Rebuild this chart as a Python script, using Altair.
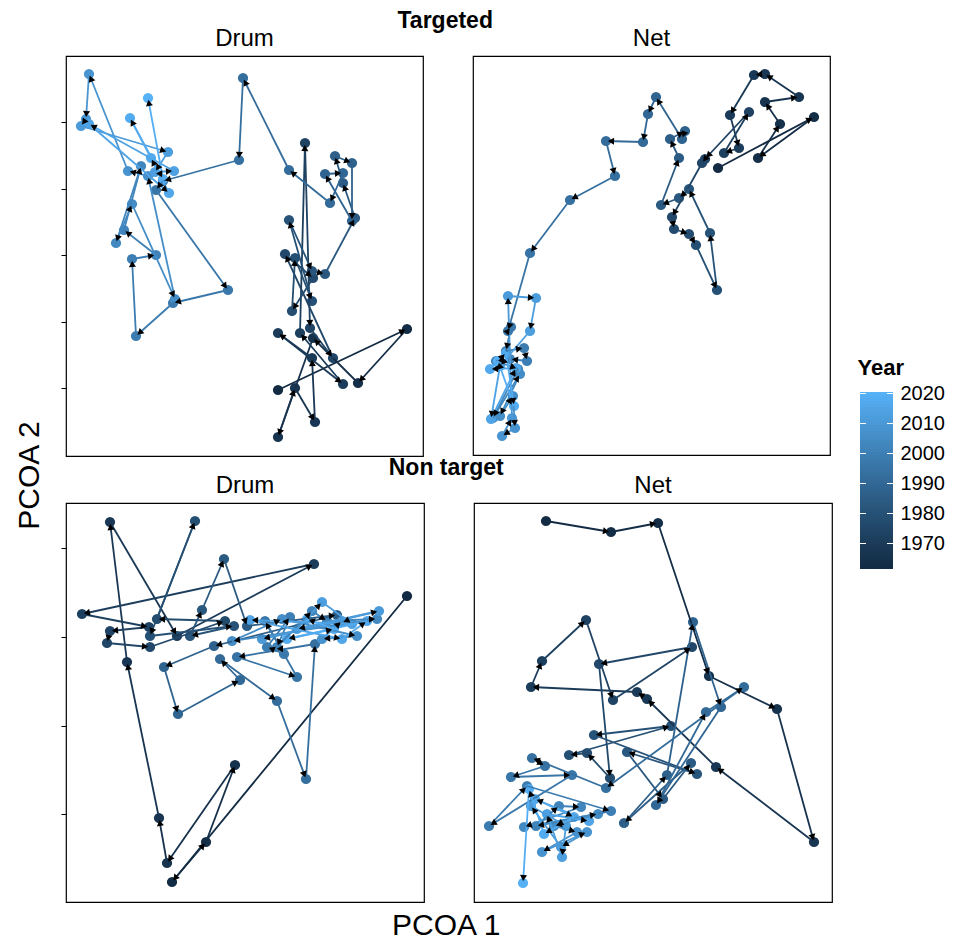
import altair as alt
import pandas as pd
import numpy as np

years = list(range(1962, 2021))

# Targeted - Drum
td_x = [2.12, 3.41, 2.92, 2.47, 2.12, 2.29, 2.49, 2.46, 2.12, 2.77, 2.34, 2.39, 2.44, 2.67, 2.19, 2.47,
        2.26, 2.29, 2.46, 2.23, 2.46, 2.59, 2.89, 2.77, 2.69, 2.86, 2.86, 2.59, 2.77, 2.64, 2.23, 1.77,
        1.73, 0.97, 0.90, 1.62, 1.07, 0.70, 0.66, 0.90, 0.58, 0.75, 0.50, 0.66, 1.09, 0.82, 0.62, 0.23,
        0.20, 0.15, 1.02, 0.89, 1.08, 0.23, 1.03, 0.85, 0.64, 0.97, 0.82]
td_y = [0.66, 1.27, 0.73, 1.18, 0.19, 0.68, 0.34, 0.98, 1.23, 0.72, 1.23, 3.13, 1.28, 0.98, 2.02, 1.78,
        1.45, 1.98, 1.55, 2.36, 1.85, 1.82, 2.38, 2.73, 3.00, 2.93, 2.35, 2.82, 2.83, 2.53, 2.86, 3.78,
        2.96, 2.75, 2.66, 1.66, 1.53, 1.20, 1.97, 2.01, 2.26, 2.90, 2.13, 2.52, 1.57, 2.80, 2.85, 3.82,
        3.37, 3.30, 3.04, 2.84, 2.85, 3.32, 2.63, 2.98, 3.38, 2.77, 3.58]

# Targeted - Net
tn_x = [2.45, 3.41, 2.85, 3.07, 2.92, 3.26, 2.92, 2.81, 2.57, 2.66, 2.51, 2.76, 2.32, 2.29, 1.99, 2.01,
        2.16, 2.23, 2.44, 2.37, 2.16, 2.06, 1.88, 2.06, 1.97, 2.12, 2.09, 1.83, 1.75, 1.70, 1.33, 1.42,
        0.97, 0.57, 0.35, 0.38, 0.33, 0.51, 0.54, 0.37, 0.23, 0.45, 0.20, 0.47, 0.27, 0.40, 0.42, 0.29,
        0.39, 0.35, 0.63, 0.57, 0.27, 0.18, 0.43, 0.17, 0.33, 0.41, 0.25]
tn_y = [2.87, 3.38, 2.97, 3.31, 3.53, 3.58, 3.81, 3.80, 3.40, 3.07, 3.02, 3.43, 2.96, 2.92, 2.38, 2.26,
        2.21, 2.10, 1.65, 2.22, 2.66, 2.57, 2.50, 2.97, 3.16, 3.24, 3.16, 3.58, 3.41, 3.13, 3.14, 2.79,
        2.55, 2.02, 1.24, 1.28, 1.04, 1.07, 0.94, 0.96, 0.94, 0.86, 0.37, 0.81, 0.39, 0.59, 0.27, 0.19,
        0.37, 1.59, 1.57, 1.24, 0.89, 0.36, 0.87, 0.86, 1.02, 0.49, 0.94]

# Non target - Drum
nd_x = [3.41, 1.06, 1.40, 1.69, 1.01, 0.93, 0.61, 0.44, 1.11, 2.48, 0.16, 0.83, 0.44, 0.41, 0.84, 1.59,
        0.91, 1.29, 0.84, 1.68, 1.24, 1.36, 1.58, 1.81, 2.71, 1.48, 0.98, 1.12, 1.74, 1.54, 2.11, 2.40,
        2.49, 1.71, 2.31, 1.99, 2.18, 2.01, 2.24, 2.11, 2.46, 2.61, 3.11, 1.66, 2.16, 2.91, 2.56, 2.76,
        1.96, 3.13, 2.31, 2.56, 2.86, 1.84, 2.76, 3.01, 2.21, 2.68, 2.41]
nd_y = [3.06, 0.20, 0.60, 1.37, 0.39, 0.84, 2.40, 3.80, 2.66, 3.38, 2.88, 2.75, 2.71, 2.59, 2.55, 2.81,
        2.83, 3.81, 2.66, 2.76, 2.66, 2.92, 3.43, 2.76, 2.87, 2.56, 2.35, 1.88, 2.22, 2.43, 2.01, 1.23,
        2.58, 2.45, 2.25, 2.81, 2.48, 2.55, 2.85, 2.55, 2.91, 2.81, 2.83, 2.61, 2.83, 2.66, 2.63, 2.81,
        2.63, 2.91, 2.73, 3.00, 2.78, 2.82, 2.63, 2.81, 2.63, 2.73, 2.83]

# Non target - Net
nn_x = [0.72, 1.37, 1.84, 2.35, 3.03, 3.40, 2.42, 1.73, 1.63, 0.57, 0.68, 1.12, 1.39, 2.18, 1.25, 1.36,
        1.13, 0.95, 1.97, 1.20, 2.23, 1.53, 1.89, 2.17, 1.50, 1.93, 2.19, 2.47, 1.82, 2.32, 2.70, 1.32,
        0.58, 0.71, 0.37, 0.98, 0.15, 0.53, 1.37, 0.62, 0.85, 1.07, 0.50, 1.24, 0.80, 1.03, 0.68, 1.13,
        0.87, 0.57, 0.92, 0.88, 0.73, 1.15, 0.61, 1.00, 0.70, 0.55, 0.49]
nn_y = [3.81, 3.70, 3.79, 2.26, 1.93, 0.60, 1.35, 2.03, 2.10, 2.15, 2.41, 2.82, 2.02, 2.55, 2.38, 1.24,
        1.49, 1.47, 1.76, 1.67, 1.28, 1.50, 1.03, 1.39, 0.79, 1.27, 2.80, 1.95, 0.97, 1.90, 2.15, 1.14,
        1.44, 1.36, 1.25, 1.27, 0.76, 1.16, 0.91, 0.76, 0.96, 0.95, 0.75, 0.88, 0.76, 0.70, 0.50, 0.70,
        0.55, 0.96, 0.76, 0.45, 0.88, 0.81, 1.03, 0.85, 0.68, 1.13, 0.19]

drum_ticks_targeted = [0.68, 1.34, 2.01, 2.67, 3.34]
drum_ticks_nontarget = [0.88, 1.76, 2.65, 3.54]
legend_years = [1970, 1980, 1990, 2000, 2010, 2020]

FONT = "Liberation Sans"
LOW, HIGH = "#132B43", "#56B1F7"


def year_scale():
    return alt.Scale(domain=[1962, 2020], range=[LOW, HIGH], interpolate="lab")


color_enc = alt.Color("Year:Q", scale=year_scale(), legend=None)
stroke_enc = alt.Stroke("Year:Q", scale=year_scale(), legend=None)


def panel(xs, ys, title, w, h, yticks=None):
    xmax, ymax = w / 100.0, h / 100.0
    sx, sy = w / xmax, h / ymax
    pts = pd.DataFrame({"Year": years, "x": xs, "y": ys})
    seg = pd.DataFrame({"Year": years[:-1], "x": xs[:-1], "y": ys[:-1],
                        "x2": xs[1:], "y2": ys[1:]})
    dxp = (seg["x2"] - seg["x"]) * sx
    dyp = (seg["y2"] - seg["y"]) * sy
    L = np.hypot(dxp, dyp).replace(0, 1)
    back = 5.0
    seg["ax"] = seg["x2"] - dxp / L * back / sx
    seg["ay"] = seg["y2"] - dyp / L * back / sy
    seg["ang"] = np.degrees(np.arctan2(dxp, dyp)) % 360

    xs_ = alt.Scale(domain=[0, xmax], nice=False, zero=False)
    ys_ = alt.Scale(domain=[0, ymax], nice=False, zero=False)
    if yticks is not None:
        yaxis = alt.Axis(values=yticks, labels=False, title=None, grid=False, domain=False,
                         ticks=True, tickSize=5, tickColor="black", tickWidth=1)
    else:
        yaxis = None

    base_pts = alt.Chart(pts).mark_circle(size=105, opacity=1).encode(
        x=alt.X("x:Q", scale=xs_, axis=None),
        y=alt.Y("y:Q", scale=ys_, axis=yaxis),
        color=color_enc,
    )
    rules = alt.Chart(seg).mark_rule(strokeWidth=1.8).encode(
        x=alt.X("x:Q", scale=xs_, axis=None),
        y=alt.Y("y:Q", scale=ys_, axis=yaxis),
        x2="x2:Q", y2="y2:Q",
        stroke=stroke_enc,
    )
    arrows = alt.Chart(seg).mark_point(shape="triangle-up", filled=True, color="black",
                                       size=50, opacity=1).encode(
        x=alt.X("ax:Q", scale=xs_, axis=None),
        y=alt.Y("ay:Q", scale=ys_, axis=yaxis),
        angle=alt.Angle("ang:Q", scale=None),
    )
    return alt.layer(base_pts, rules, arrows).properties(
        width=w, height=h,
        title=alt.Title(title, fontSize=24, font=FONT, fontWeight="normal",
                        anchor="middle", offset=5, color="black"),
    )


p1 = panel(td_x, td_y, "Drum", 357, 400, drum_ticks_targeted)
p2 = panel(tn_x, tn_y, "Net", 357, 399)
p3 = panel(nd_x, nd_y, "Drum", 358, 399, drum_ticks_nontarget)
p4 = panel(nn_x, nn_y, "Net", 358, 399)

row1 = alt.hconcat(p1, p2, spacing=48).properties(
    title=alt.Title("Targeted", fontSize=23, font=FONT, fontWeight="bold",
                    anchor="middle", offset=-7, color="black"))
row2 = alt.hconcat(p3, p4, spacing=48).properties(
    title=alt.Title("Non target", fontSize=23, font=FONT, fontWeight="bold",
                    anchor="middle", offset=-7, color="black"))

inner = alt.vconcat(row1, row2, spacing=0).properties(
    title=alt.Title("PCOA 1", orient="bottom", fontSize=30, font=FONT, fontWeight="normal",
                    anchor="middle", offset=8, color="black"))

# Colour bar (one thin cell per year, drawn through the shared colour scale)
bar_df = pd.DataFrame({"Year": years})
bar_df["lo"] = bar_df["Year"] - 0.5
bar_df["hi"] = bar_df["Year"] + 0.5
tick_df = pd.DataFrame({"Year": legend_years})
ly = alt.Scale(domain=[1961.5, 2020.5], nice=False, zero=False)
legend_axis = alt.Axis(orient="right", values=legend_years, format="d", title=None,
                       domain=False, ticks=False, grid=False, labelFontSize=20,
                       labelFont=FONT, labelColor="black", labelPadding=7,
                       labelOverlap=False)
bar = alt.Chart(bar_df).mark_rect().encode(
    y=alt.Y("lo:Q", scale=ly, axis=legend_axis),
    y2="hi:Q",
    color=color_enc,
)
tl = alt.Chart(tick_df).mark_rule(color="white", strokeWidth=1).encode(
    y=alt.Y("Year:Q", scale=ly, axis=legend_axis), x=alt.value(0), x2=alt.value(6))
tr = alt.Chart(tick_df).mark_rule(color="white", strokeWidth=1).encode(
    y=alt.Y("Year:Q", scale=ly, axis=legend_axis), x=alt.value(27), x2=alt.value(33))
legend_view = alt.layer(bar, tl, tr).properties(
    width=33, height=177,
    view=alt.ViewBackground(stroke=None),
    title=alt.Title("Year", fontSize=22, font=FONT, fontWeight="bold", anchor="start",
                    offset=4, color="black", dx=-2),
)
spacer = alt.Chart(pd.DataFrame({"v": [0]})).mark_point(opacity=0).encode(
    x=alt.value(0), y=alt.value(0)
).properties(width=33, height=300, view=alt.ViewBackground(stroke=None))

legend_col = alt.vconcat(spacer, legend_view, spacing=0)

chart = alt.hconcat(inner, legend_col, spacing=24).properties(
    title=alt.Title("PCOA 2", orient="left", fontSize=30, font=FONT, fontWeight="normal",
                    anchor="middle", offset=25, dy=10, color="black"),
    padding={"left": 14, "top": 10, "right": 5, "bottom": 0},
).configure_view(stroke="black", strokeWidth=1.2).configure_concat(spacing=0)

chart.save("out.html", embed_options={"renderer": "svg", "actions": False})
